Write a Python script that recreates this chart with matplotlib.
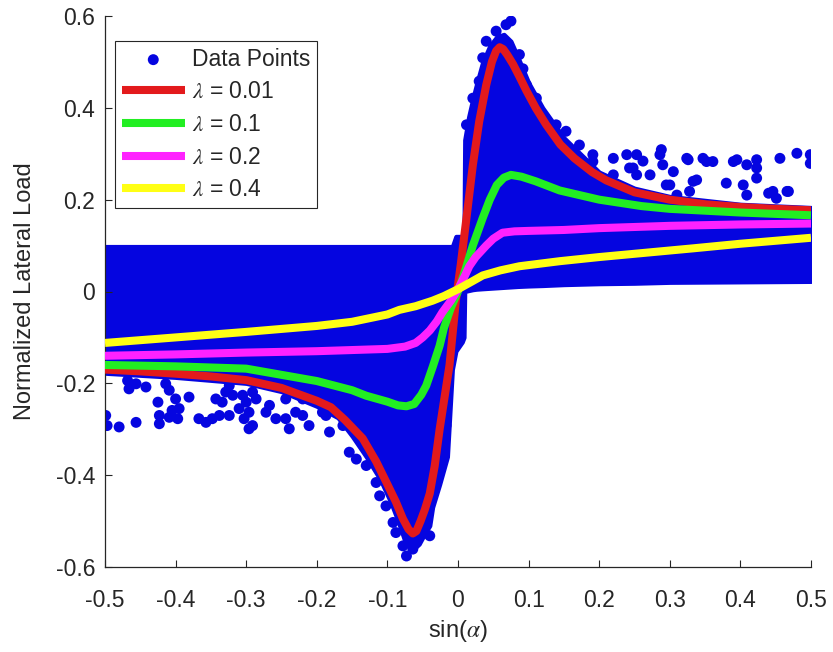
import numpy as np
import matplotlib
matplotlib.use('Agg')
import matplotlib.pyplot as plt

plt.rcParams['font.family'] = ['Liberation Sans', 'DejaVu Sans']
plt.rcParams['mathtext.fontset'] = 'stix'
plt.rcParams['axes.unicode_minus'] = False

# --- dense part of the measured cloud (lower / upper edge vs sin(alpha)) ---
cloud_x = [-0.5, -0.4, -0.3, -0.25, -0.2, -0.17, -0.15, -0.13, -0.11, -0.095,
           -0.085, -0.075, -0.068, -0.062, -0.055, -0.048, -0.04, -0.036, -0.026, -0.015,
           -0.008, -0.003, 0.006, 0.0085, 0.0095, 0.015, 0.021, 0.026, 0.035, 0.045,
           0.055, 0.065, 0.075, 0.085, 0.1, 0.12, 0.15, 0.2, 0.25, 0.3,
           0.4, 0.5]
cloud_lo = [-0.178, -0.187, -0.200, -0.218, -0.250, -0.275, -0.315, -0.36, -0.41, -0.46,
            -0.50, -0.545, -0.56, -0.56, -0.55, -0.53, -0.51, -0.47, -0.42, -0.36,
            -0.17, -0.13, -0.11, -0.10, 0.0, 0.002, 0.004, 0.005, 0.006, 0.007,
            0.008, 0.009, 0.010, 0.011, 0.012, 0.013, 0.015, 0.017, 0.018, 0.020,
            0.021, 0.022]
cloud_hi = [0.098, 0.098, 0.098, 0.098, 0.098, 0.098, 0.098, 0.098, 0.098, 0.098,
            0.098, 0.098, 0.098, 0.098, 0.098, 0.098, 0.098, 0.098, 0.098, 0.098,
            0.098, 0.12, 0.12, 0.12, 0.33, 0.38, 0.42, 0.45, 0.50, 0.535,
            0.555, 0.56, 0.545, 0.51, 0.455, 0.40, 0.335, 0.26, 0.225, 0.207,
            0.19, 0.183]

# --- scattered data points outside the dense band ---
pts_x = [-0.468, -0.456, -0.442, -0.466, -0.414, -0.409, -0.400, -0.381, -0.425, -0.405,
         -0.395, -0.499, -0.497, -0.480, -0.456, -0.423, -0.423, -0.409, -0.397, -0.367,
         -0.357, -0.348, -0.343, -0.334, -0.329, -0.319, -0.338, -0.324, -0.310, -0.300,
         -0.303, -0.291, -0.291, -0.324, -0.305, -0.286, -0.296, -0.267, -0.258, -0.244,
         -0.230, -0.220, -0.239, -0.211, -0.192, -0.182, -0.168, -0.163, -0.144, -0.296,
         -0.272, -0.244, -0.220, -0.187, -0.168, -0.154, -0.144, -0.130, -0.126, -0.116,
         -0.111, -0.102, -0.092, -0.088, -0.078, -0.073, -0.064, -0.040, -0.017, -0.022,
         -0.031,
         0.253, 0.288, 0.290, 0.305, 0.326, 0.347, 0.361, 0.338, 0.328, 0.380,
         0.395, 0.409, 0.423, 0.423, 0.404, 0.409, 0.440, 0.451, 0.468, 0.456,
         0.480, 0.499, 0.499, 0.243, 0.272, 0.262, 0.300, 0.310, 0.220, 0.239,
         0.220, 0.253, 0.248, 0.191, 0.182, 0.286, 0.324, 0.352, 0.390, 0.423,
         0.466, 0.446, 0.295, 0.333, 0.253, 0.116, 0.139, 0.153, 0.172, 0.191,
         0.097, 0.111, 0.087, 0.068, 0.075, 0.054, 0.040, 0.092, 0.012, 0.021,
         0.030, 0.035]
pts_y = [-0.194, -0.201, -0.208, -0.212, -0.201, -0.215, -0.234, -0.230, -0.241, -0.259,
         -0.255, -0.270, -0.292, -0.295, -0.285, -0.270, -0.288, -0.274, -0.277, -0.277,
         -0.285, -0.277, -0.234, -0.241, -0.219, -0.226, -0.270, -0.270, -0.255, -0.241,
         -0.277, -0.292, -0.219, -0.205, -0.226, -0.234, -0.263, -0.248, -0.277, -0.234,
         -0.263, -0.234, -0.299, -0.292, -0.263, -0.306, -0.248, -0.292, -0.306, -0.299,
         -0.263, -0.277, -0.270, -0.270, -0.241, -0.350, -0.365, -0.379, -0.350, -0.416,
         -0.445, -0.467, -0.503, -0.525, -0.554, -0.576, -0.561, -0.532, -0.292, -0.336,
         -0.379,
         0.298, 0.309, 0.276, 0.261, 0.287, 0.290, 0.283, 0.243, 0.218, 0.236,
         0.287, 0.276, 0.287, 0.247, 0.232, 0.210, 0.214, 0.203, 0.218, 0.290,
         0.301, 0.298, 0.279, 0.269, 0.254, 0.284, 0.232, 0.210, 0.290, 0.298,
         0.254, 0.254, 0.269, 0.298, 0.276, 0.298, 0.290, 0.283, 0.283, 0.269,
         0.218, 0.218, 0.232, 0.240, 0.210, 0.385, 0.363, 0.349, 0.319, 0.283,
         0.450, 0.421, 0.516, 0.581, 0.589, 0.567, 0.545, 0.485, 0.363, 0.421,
         0.458, 0.509]

# --- model curves ---
red_x = [-0.5, -0.45, -0.4, -0.35, -0.3, -0.25, -0.2, -0.18, -0.16, -0.135,
         -0.116, -0.1, -0.088, -0.078, -0.07, -0.064, -0.059, -0.053, -0.047, -0.04,
         -0.033, -0.026, -0.019, -0.012, -0.003, 0.004, 0.012, 0.021, 0.03, 0.04,
         0.048, 0.054, 0.059, 0.064, 0.07, 0.078, 0.087, 0.097, 0.11, 0.125,
         0.145, 0.165, 0.19, 0.21, 0.25, 0.3, 0.35, 0.4, 0.45, 0.5]
red_y = [-0.170, -0.174, -0.179, -0.185, -0.193, -0.210, -0.238, -0.252, -0.280, -0.320,
         -0.370, -0.420, -0.458, -0.495, -0.518, -0.527, -0.522, -0.500, -0.475, -0.440,
         -0.380, -0.300, -0.230, -0.160, -0.020, 0.060, 0.160, 0.275, 0.370, 0.450,
         0.500, 0.524, 0.532, 0.528, 0.515, 0.495, 0.468, 0.437, 0.400, 0.363,
         0.320, 0.290, 0.260, 0.242, 0.216, 0.200, 0.190, 0.184, 0.180, 0.177]

green_x = [-0.5, -0.4, -0.3, -0.2, -0.15, -0.13, -0.1, -0.085, -0.073, -0.062,
           -0.052, -0.045, -0.036, -0.026, -0.02, -0.01, 0.0, 0.01, 0.021, 0.035,
           0.045, 0.055, 0.065, 0.075, 0.09, 0.11, 0.144, 0.2, 0.26, 0.3,
           0.4, 0.5]
green_y = [-0.160, -0.163, -0.168, -0.195, -0.215, -0.227, -0.240, -0.248, -0.250, -0.245,
           -0.225, -0.205, -0.165, -0.118, -0.080, -0.035, 0.0, 0.045, 0.100, 0.160,
           0.200, 0.232, 0.248, 0.254, 0.250, 0.240, 0.220, 0.200, 0.186, 0.180,
           0.172, 0.166]

magenta_x = [-0.5, -0.4, -0.3, -0.2, -0.1, -0.075, -0.06, -0.05, -0.04, -0.03,
             -0.022, -0.01, 0.0, 0.01, 0.016, 0.025, 0.04, 0.05, 0.063, 0.08,
             0.1, 0.15, 0.2, 0.3, 0.4, 0.5]
magenta_y = [-0.140, -0.137, -0.133, -0.130, -0.125, -0.120, -0.112, -0.100, -0.085, -0.065,
             -0.045, -0.020, 0.005, 0.035, 0.055, 0.075, 0.100, 0.115, 0.128, 0.131,
             0.132, 0.134, 0.138, 0.143, 0.146, 0.148]

yellow_x = [-0.5, -0.4, -0.3, -0.2, -0.15, -0.1, -0.083, -0.06, -0.036, -0.02,
            0.0, 0.02, 0.035, 0.06, 0.087, 0.144, 0.2, 0.333, 0.4, 0.5]
yellow_y = [-0.112, -0.100, -0.088, -0.075, -0.066, -0.050, -0.040, -0.032, -0.020, -0.010,
            0.005, 0.022, 0.035, 0.046, 0.055, 0.066, 0.075, 0.094, 0.104, 0.117]

x_ticks = [-0.5, -0.4, -0.3, -0.2, -0.1, 0, 0.1, 0.2, 0.3, 0.4, 0.5]
x_ticklabels = ['-0.5', '-0.4', '-0.3', '-0.2', '-0.1', '0', '0.1', '0.2', '0.3', '0.4', '0.5']
y_ticks = [-0.6, -0.4, -0.2, 0, 0.2, 0.4, 0.6]
y_ticklabels = ['-0.6', '-0.4', '-0.2', '0', '0.2', '0.4', '0.6']

blue = '#0505e0'
txt = '#262626'

fig = plt.figure(figsize=(8.33, 6.52), dpi=100)
ax = fig.add_axes([105 / 833, 85 / 652, 706 / 833, 551 / 652])

ax.fill_between(cloud_x, cloud_lo, cloud_hi, color=blue, edgecolor=blue, lw=3, zorder=1)
ax.scatter(pts_x, pts_y, s=62, color=blue, edgecolors='none', zorder=2, label='Data Points')

ax.plot(red_x, red_y, color='#e31a1c', lw=5.8, solid_capstyle='butt', zorder=3, label=r'$\lambda$ = 0.01')
ax.plot(green_x, green_y, color='#22ee22', lw=5.8, solid_capstyle='butt', zorder=4, label=r'$\lambda$ = 0.1')
ax.plot(magenta_x, magenta_y, color='#ff22ff', lw=5.8, solid_capstyle='butt', zorder=5, label=r'$\lambda$ = 0.2')
ax.plot(yellow_x, yellow_y, color='#ffff14', lw=5.8, solid_capstyle='butt', zorder=6, label=r'$\lambda$ = 0.4')

ax.set_xlim(-0.5, 0.5)
ax.set_ylim(-0.6, 0.6)
ax.set_xticks(x_ticks)
ax.set_xticklabels(x_ticklabels)
ax.set_yticks(y_ticks)
ax.set_yticklabels(y_ticklabels)
ax.tick_params(direction='in', length=5, width=0.8, colors=txt, labelsize=16.5)
ax.tick_params(axis='x', pad=16)
ax.tick_params(axis='y', pad=7)
for s in ['top', 'right']:
    ax.spines[s].set_visible(False)
for s in ['left', 'bottom']:
    ax.spines[s].set_color(txt)
    ax.spines[s].set_linewidth(0.9)

ax.set_xlabel(r'sin($\alpha$)', fontsize=17, color=txt, labelpad=4)
ax.set_ylabel('Normalized Lateral Load', fontsize=17, color=txt, labelpad=14)

leg = ax.legend(loc='upper left', bbox_to_anchor=(0.014, 0.955), borderaxespad=0,
                fontsize=16.5, handlelength=2.75, handletextpad=0.3, labelspacing=0.42,
                borderpad=0.3, scatterpoints=1, fancybox=False, framealpha=1)
leg.get_frame().set_edgecolor(txt)
leg.get_frame().set_linewidth(0.8)
for t in leg.get_texts():
    t.set_color(txt)

fig.savefig('out.png', dpi=100)
